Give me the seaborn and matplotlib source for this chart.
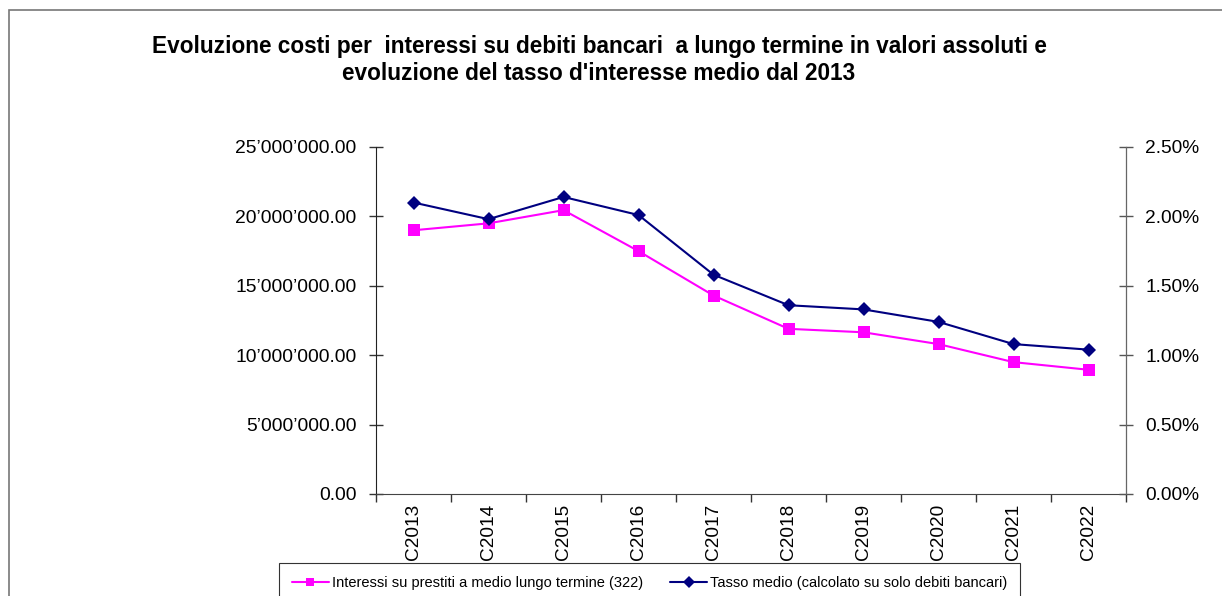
import numpy as np
import pandas as pd
import matplotlib
matplotlib.use("Agg")
import matplotlib.pyplot as plt
from matplotlib.ticker import FuncFormatter, PercentFormatter, FixedLocator
from matplotlib.patches import Rectangle
import seaborn as sns

# Data
years = ['C2013', 'C2014', 'C2015', 'C2016', 'C2017', 'C2018', 'C2019', 'C2020', 'C2021', 'C2022']
interessi = [19.0e6, 19.5e6, 20.45e6, 17.5e6, 14.3e6, 11.9e6, 11.65e6, 10.8e6, 9.5e6, 8.95e6]
tasso = [0.0210, 0.0198, 0.0214, 0.0201, 0.0158, 0.0136, 0.0133, 0.0124, 0.0108, 0.0104]

label_int = 'Interessi su prestiti a medio lungo termine (322)'
label_tasso = 'Tasso medio (calcolato su solo debiti bancari)'
title = ("Evoluzione costi per  interessi su debiti bancari  a lungo termine in valori assoluti e\n"
         "evoluzione del tasso d'interesse medio dal 2013")

df = pd.DataFrame({'anno': years, 'interessi': interessi, 'tasso': tasso})

sns.set_style('white')
plt.rcParams['font.family'] = ['Liberation Sans', 'DejaVu Sans']
plt.rcParams['text.color'] = 'black'
plt.rcParams['xtick.color'] = 'black'
plt.rcParams['ytick.color'] = 'black'

fig = plt.figure(figsize=(12.22, 5.96), dpi=100)
ax = fig.add_axes([376 / 1222, 1 - 494 / 596, 750 / 1222, 347 / 596])
ax2 = ax.twinx()

sns.lineplot(data=df, x='anno', y='interessi', ax=ax, color='#FF00FF', marker='s',
             markersize=8, markeredgewidth=0, linewidth=1.5, label=label_int, sort=False)
sns.lineplot(data=df, x='anno', y='tasso', ax=ax2, color='#000080', marker='D',
             markersize=7.5, markeredgewidth=0, linewidth=1.5, label=label_tasso, sort=False)

ax.set_xlim(-0.5, len(years) - 0.5)
ax.set_ylim(0, 25e6)
ax2.set_ylim(0, 0.025)
ax.set_yticks(np.arange(0, 25e6 + 1, 5e6))
ax2.set_yticks(np.arange(0, 0.0251, 0.005))
ax.yaxis.set_major_formatter(FuncFormatter(lambda v, p: f"{v:,.2f}".replace(',', '\u2019')))
ax2.yaxis.set_major_formatter(PercentFormatter(xmax=1, decimals=2))

ax.set_xlabel('')
ax.set_ylabel('')
ax2.set_ylabel('')

# category labels between boundary ticks
ax.set_xticks(range(len(years)))
ax.set_xticklabels(years, rotation=90, fontsize=13.7)
ax.xaxis.set_minor_locator(FixedLocator(np.arange(-0.5, len(years), 1.0)))
ax.tick_params(axis='x', which='major', length=0, pad=7)
ax.tick_params(axis='x', which='minor', bottom=True, length=6, width=1, direction='out', color='#333333')
ax.tick_params(axis='y', left=True, length=10, width=1, direction='inout', labelsize=13.9, pad=9, color='#333333')
ax2.tick_params(axis='y', right=True, length=10, width=1, direction='inout', labelsize=13.8, pad=9, color='#555555')

for a in (ax, ax2):
    a.spines['top'].set_visible(False)
    a.grid(False)
ax.spines['left'].set_color('#222222')
ax.spines['bottom'].set_color('#444444')
ax2.spines['right'].set_color('#666666')
ax2.spines['left'].set_visible(False)
ax2.spines['bottom'].set_visible(False)
ax.patch.set_visible(False)

h1, l1 = ax.get_legend_handles_labels()
h2, l2 = ax2.get_legend_handles_labels()
ax.get_legend().remove()
ax2.get_legend().remove()
leg = fig.legend(h1 + h2, l1 + l2, loc='upper left', bbox_to_anchor=(279 / 1222, 1 - 563 / 596),
                 borderaxespad=0, ncol=2, fontsize=10.5, frameon=True, fancybox=False, framealpha=1,
                 edgecolor='#333333', handlelength=2.5, handletextpad=0.2, columnspacing=1.9,
                 borderpad=0.9, markerscale=0.75)
leg.get_frame().set_linewidth(0.8)

fig.text(599 / 1222, 1 - 60 / 596, title, ha='center', va='center', fontsize=16.3,
         fontweight='bold', linespacing=1.25)

fig.patches.append(Rectangle((9 / 1222, -0.1), 1.2, 1.1 - 10 / 596, transform=fig.transFigure,
                             fill=False, edgecolor='#777777', linewidth=1.2))

fig.savefig('out.png', dpi=100)
